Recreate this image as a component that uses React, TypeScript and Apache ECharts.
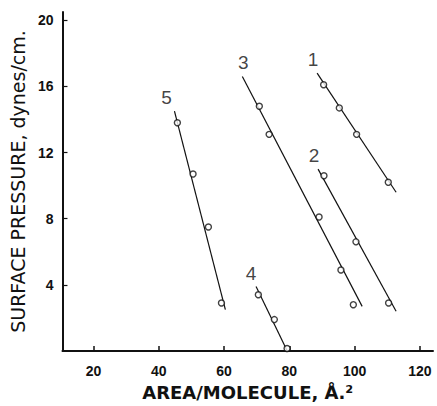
import React, { useEffect, useRef } from "react";
import * as echarts from "echarts";

// Measured points [area, pressure]
const points1 = [[90.5, 16.1], [95.3, 14.7], [100.6, 13.1], [110.3, 10.2]];
const points2 = [[90.6, 10.6], [100.4, 6.6], [110.4, 2.9]];
const points3 = [[70.8, 14.8], [73.8, 13.1], [89.1, 8.1], [95.8, 4.9], [99.6, 2.8]];
const points4 = [[70.5, 3.4], [75.4, 1.9], [79.3, 0.15]];
const points5 = [[45.7, 13.8], [50.5, 10.7], [55.2, 7.5], [59.2, 2.9]];

// Fitted line endpoints
const line1 = [[88.5, 16.8], [112.7, 9.6]];
const line2 = [[88.8, 11.0], [112.7, 2.4]];
const line3 = [[65.6, 16.6], [102.3, 2.7]];
const line4 = [[69.8, 3.9], [79.6, -0.1]];
const line5 = [[44.8, 14.5], [60.4, 2.5]];

const curveNames = ["1", "2", "3", "4", "5"];
const labelOffsets = [[-4, 0], [-4, 0], [1, 0], [-5, 0], [-8, 0]];

const xTicks = [20, 40, 60, 80, 100, 120];
const yTicks = [4, 8, 12, 16, 20];

export default function App() {
  const ref = useRef<HTMLDivElement>(null);
  useEffect(() => {
    if (!ref.current) return;
    const chart = echarts.init(ref.current, null, { renderer: "svg" });
    const allPoints = [points1, points2, points3, points4, points5];
    const allLines = [line1, line2, line3, line4, line5];
    const series: any[] = [];
    allLines.forEach((ln) => {
      series.push({
        type: "line",
        symbol: "none",
        data: ln,
        lineStyle: { color: "#111", width: 1.2 },
        silent: true,
        z: 2,
      });
    });
    allPoints.forEach((pts) => {
      series.push({
        type: "scatter",
        data: pts,
        symbol: "circle",
        symbolSize: 6,
        itemStyle: { color: "#fff", borderColor: "#111", borderWidth: 1.4 },
        z: 3,
      });
    });
    // curve number labels, placed at the start of each fitted line
    series.push({
      type: "scatter",
      symbol: "circle",
      symbolSize: 2,
      itemStyle: { color: "rgba(0,0,0,0)" },
      silent: true,
      z: 4,
      data: allLines.map((ln, i) => ({
        value: ln[0],
        label: {
          show: true,
          position: "top",
          distance: 3,
          offset: labelOffsets[i],
          formatter: curveNames[i],
          fontFamily: "Liberation Sans",
          fontSize: 19,
          color: "#111",
        },
      })),
    });
    chart.setOption({
      animation: false,
      backgroundColor: "#fff",
      grid: { left: 62, right: 4, top: 12, bottom: 55, containLabel: false },
      xAxis: {
        type: "value",
        min: 10.5,
        max: 124,
        splitLine: { show: false },
        axisLine: { show: true, onZero: false, lineStyle: { color: "#111", width: 2 } },
        axisTick: { show: true, inside: true, length: 5, customValues: xTicks, lineStyle: { color: "#111", width: 1.5 } },
        axisLabel: {
          customValues: xTicks,
          margin: 13,
          fontFamily: "Liberation Sans",
          fontWeight: "bold",
          fontSize: 14,
          color: "#111",
        },
        name: "AREA/MOLECULE, Å.²",
        nameLocation: "middle",
        nameGap: 32,
        nameTextStyle: {
          fontFamily: "DejaVu Sans",
          fontWeight: "bold",
          fontSize: 18,
          color: "#111",
        },
      },
      yAxis: {
        type: "value",
        min: 0,
        max: 20.5,
        splitLine: { show: false },
        axisLine: { show: true, onZero: false, lineStyle: { color: "#111", width: 2 } },
        axisTick: { show: true, inside: true, length: 5, customValues: yTicks, lineStyle: { color: "#111", width: 1.2 } },
        axisLabel: {
          customValues: yTicks,
          margin: 9,
          fontFamily: "Liberation Sans",
          fontWeight: "bold",
          fontSize: 14,
          color: "#111",
        },
        name: "SURFACE PRESSURE, dynes/cm.",
        nameLocation: "middle",
        nameGap: 31,
        nameTextStyle: {
          fontFamily: "DejaVu Sans",
          fontSize: 19,
          color: "#111",
        },
      },
      series,
    });
    return () => chart.dispose();
  }, []);
  return (
    <div
      ref={ref}
      style={{ position: "fixed", left: 0, top: 0, width: 437, height: 406 }}
    />
  );
}
